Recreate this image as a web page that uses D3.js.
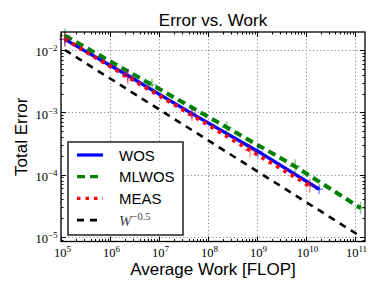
<!DOCTYPE html>
<html>
<head>
<meta charset="utf-8">
<script src="https://cdn.jsdelivr.net/npm/d3@7"></script>
<style>
  html, body { margin: 0; padding: 0; background: #fff; }
  svg { display: block; }
</style>
</head>
<body>
<div id="chart"></div>
<script>
// values
const wosWork = [1.2e5, 2.3e6, 4.7e7, 1.05e9, 1.86e10];
const wosError = [1.48e-2, 3.9e-3, 9.5e-4, 2.35e-4, 5.8e-5];
const wosSpread = [1.3, 1.25, 1.2, 1.25, 1.2];

const mlwosWork = [1.2e5, 7.2e6, 2.4e8, 6.0e9, 1.3e11];
const mlwosError = [1.7e-2, 2.75e-3, 5.75e-4, 1.35e-4, 2.9e-5];
const mlwosSpread = [1.3, 1.25, 1.25, 1.3, 1.25];

const measWork = [1.2e5, 2.3e6, 4.7e7, 7.2e8, 1.2e10];
const measError = [1.5e-2, 3.7e-3, 9.0e-4, 2.45e-4, 6.6e-5];
const measSpread = [1.3, 1.3, 1.25, 1.3, 1.3];

// reference slope W^-0.5
const refWork = [1.2e5, 1.1e11];
const refError = [1.0e-2, 1.1e-5];

const xTickExps = [5, 6, 7, 8, 9, 10, 11];
const yTickExps = [-2, -3, -4, -5];

const width = 390;
const height = 293;
const margin = { top: 32, right: 25, bottom: 51.5, left: 61 };

const series = [
  { name: 'WOS', work: wosWork, error: wosError, spread: wosSpread,
    color: '#0000ff', width: 3.4, dash: null },
  { name: 'MLWOS', work: mlwosWork, error: mlwosError, spread: mlwosSpread,
    color: '#008000', width: 4, dash: '8,5' },
  { name: 'MEAS', work: measWork, error: measError, spread: measSpread,
    color: '#ff0000', width: 4, dash: '3.5,5' },
];
const refSeries = { name: 'ref', work: refWork, error: refError, color: '#000', width: 2.6, dash: '7,6' };

const svg = d3.select('#chart')
  .append('svg')
  .attr('width', width)
  .attr('height', height)
  .style('font-family', '"Liberation Sans", Arial, sans-serif');

const x = d3.scaleLog()
  .domain([1e5, 1.6e11])
  .range([margin.left, width - margin.right]);

const y = d3.scaleLog()
  .domain([8.4e-6, 1.945e-2])
  .range([height - margin.bottom, margin.top]);

const [x0, x1] = x.range();
const [y0, y1] = y.range();

const majorX = xTickExps.map((e) => 10 ** e);
const majorY = yTickExps.map((e) => 10 ** e);
const minorOf = (scale) => {
  const [a, b] = scale.domain();
  const lo = Math.floor(Math.log10(a));
  const hi = Math.ceil(Math.log10(b));
  return d3.range(lo, hi + 1)
    .flatMap((e) => d3.range(2, 10).map((m) => m * 10 ** e))
    .filter((v) => v >= a && v <= b);
};

// grid
const grid = svg.append('g')
  .attr('stroke', '#888')
  .attr('stroke-width', 1)
  .attr('stroke-dasharray', '1.2,2.4');

grid.selectAll('.gx')
  .data(majorX)
  .join('line')
  .attr('x1', (d) => Math.round(x(d)) + 0.5)
  .attr('x2', (d) => Math.round(x(d)) + 0.5)
  .attr('y1', y1)
  .attr('y2', y0);

grid.selectAll('.gy')
  .data(majorY)
  .join('line')
  .attr('y1', (d) => Math.round(y(d)) + 0.5)
  .attr('y2', (d) => Math.round(y(d)) + 0.5)
  .attr('x1', x0)
  .attr('x2', x1);

// ticks, pointing inward on all four sides
const drawTicks = (values, len) => {
  const g = svg.append('g').attr('stroke', '#000').attr('stroke-width', 1);
  values.x.forEach((v) => {
    const px = Math.round(x(v)) + 0.5;
    g.append('line').attr('x1', px).attr('x2', px).attr('y1', y0).attr('y2', y0 - len);
    g.append('line').attr('x1', px).attr('x2', px).attr('y1', y1).attr('y2', y1 + len);
  });
  values.y.forEach((v) => {
    const py = Math.round(y(v)) + 0.5;
    g.append('line').attr('y1', py).attr('y2', py).attr('x1', x0).attr('x2', x0 + len);
    g.append('line').attr('y1', py).attr('y2', py).attr('x1', x1).attr('x2', x1 - len);
  });
};
drawTicks({ x: minorOf(x), y: minorOf(y) }, 2.5);
drawTicks({ x: majorX, y: majorY }, 5);

// data lines
const line = d3.line()
  .x((d) => x(d[0]))
  .y((d) => y(d[1]));

const lines = svg.append('g').attr('fill', 'none');

[refSeries, ...series].forEach((s) => {
  lines.append('path')
    .datum(d3.zip(s.work, s.error))
    .attr('d', line)
    .attr('stroke', s.color)
    .attr('stroke-width', s.width)
    .attr('stroke-dasharray', s.dash);
});

// error bars
const bars = svg.append('g').attr('stroke-width', 1.5).attr('stroke-opacity', 0.45);
series.forEach((s) => {
  const pts = d3.zip(s.work, s.error, s.spread);
  bars.append('g')
    .attr('stroke', s.color)
    .call((g) => g.selectAll('.v')
      .data(pts)
      .join('line')
      .attr('x1', (d) => x(d[0]))
      .attr('x2', (d) => x(d[0]))
      .attr('y1', (d) => y(d[1] * d[2]))
      .attr('y2', (d) => y(d[1] / d[2])))
    .call((g) => g.selectAll('.h')
      .data(pts)
      .join('line')
      .attr('x1', (d) => x(d[0] / d[2]))
      .attr('x2', (d) => x(d[0] * d[2]))
      .attr('y1', (d) => y(d[1]))
      .attr('y2', (d) => y(d[1])));
});

// frame
svg.append('rect')
  .attr('x', x0)
  .attr('y', y1)
  .attr('width', x1 - x0)
  .attr('height', y0 - y1)
  .attr('fill', 'none')
  .attr('stroke', '#000')
  .attr('stroke-width', 1.3);

// tick labels (10^n in serif)
const serif = '"Liberation Serif", "DejaVu Serif", serif';

svg.append('g')
  .attr('font-family', serif)
  .attr('font-size', 12.5)
  .attr('text-anchor', 'middle')
  .selectAll('text')
  .data(xTickExps)
  .join('text')
  .attr('x', (d) => x(10 ** d) + 1.5)
  .attr('y', y0 + 15.5)
  .call((t) => t.append('tspan').text('10'))
  .call((t) => t.append('tspan')
    .attr('font-size', 9)
    .attr('dy', -5)
    .text((d) => d));

svg.append('g')
  .attr('font-family', serif)
  .attr('font-size', 12.5)
  .attr('text-anchor', 'end')
  .selectAll('text')
  .data(yTickExps)
  .join('text')
  .attr('x', x0 - 3.5)
  .attr('y', (d) => y(10 ** d) + 6.5)
  .call((t) => t.append('tspan').text('10'))
  .call((t) => t.append('tspan')
    .attr('font-size', 9)
    .attr('dy', -5)
    .text((d) => `\u2212${-d}`));

// title and axis labels
svg.append('text')
  .attr('x', (x0 + x1) / 2)
  .attr('y', 25.5)
  .attr('text-anchor', 'middle')
  .attr('font-size', 17)
  .text('Error vs. Work');

svg.append('text')
  .attr('x', (x0 + x1) / 2)
  .attr('y', 275)
  .attr('text-anchor', 'middle')
  .attr('font-size', 17)
  .text('Average Work [FLOP]');

svg.append('text')
  .attr('transform', `translate(27,${(y0 + y1) / 2}) rotate(-90)`)
  .attr('text-anchor', 'middle')
  .attr('font-size', 17)
  .text('Total Error');

// legend
const legend = svg.append('g').attr('transform', 'translate(68,142)');

legend.append('rect')
  .attr('width', 115)
  .attr('height', 93)
  .attr('fill', '#fff')
  .attr('stroke', '#222')
  .attr('stroke-width', 1.5);

const entries = [...series, refSeries];
const rows = legend.selectAll('g')
  .data(entries)
  .join('g')
  .attr('transform', (_, i) => `translate(0,${13 + i * 21.7})`);

rows.append('line')
  .attr('x1', 9)
  .attr('x2', 35)
  .attr('stroke', (d) => d.color)
  .attr('stroke-width', (d) => Math.min(d.width, 3.2))
  .attr('stroke-dasharray', (d) => d.dash);

rows.filter((d) => d.name !== 'ref')
  .append('text')
  .attr('x', 51)
  .attr('y', 5.5)
  .attr('font-size', 15)
  .text((d) => d.name);

rows.filter((d) => d.name === 'ref')
  .append('text')
  .attr('x', 51)
  .attr('y', 5.5)
  .attr('font-family', serif)
  .attr('font-size', 15)
  .attr('fill', '#444')
  .call((t) => t.append('tspan').attr('font-style', 'italic').text('W'))
  .call((t) => t.append('tspan')
    .attr('font-size', 10.5)
    .attr('dy', -6)
    .text('\u22120.5'));
</script>
</body>
</html>
